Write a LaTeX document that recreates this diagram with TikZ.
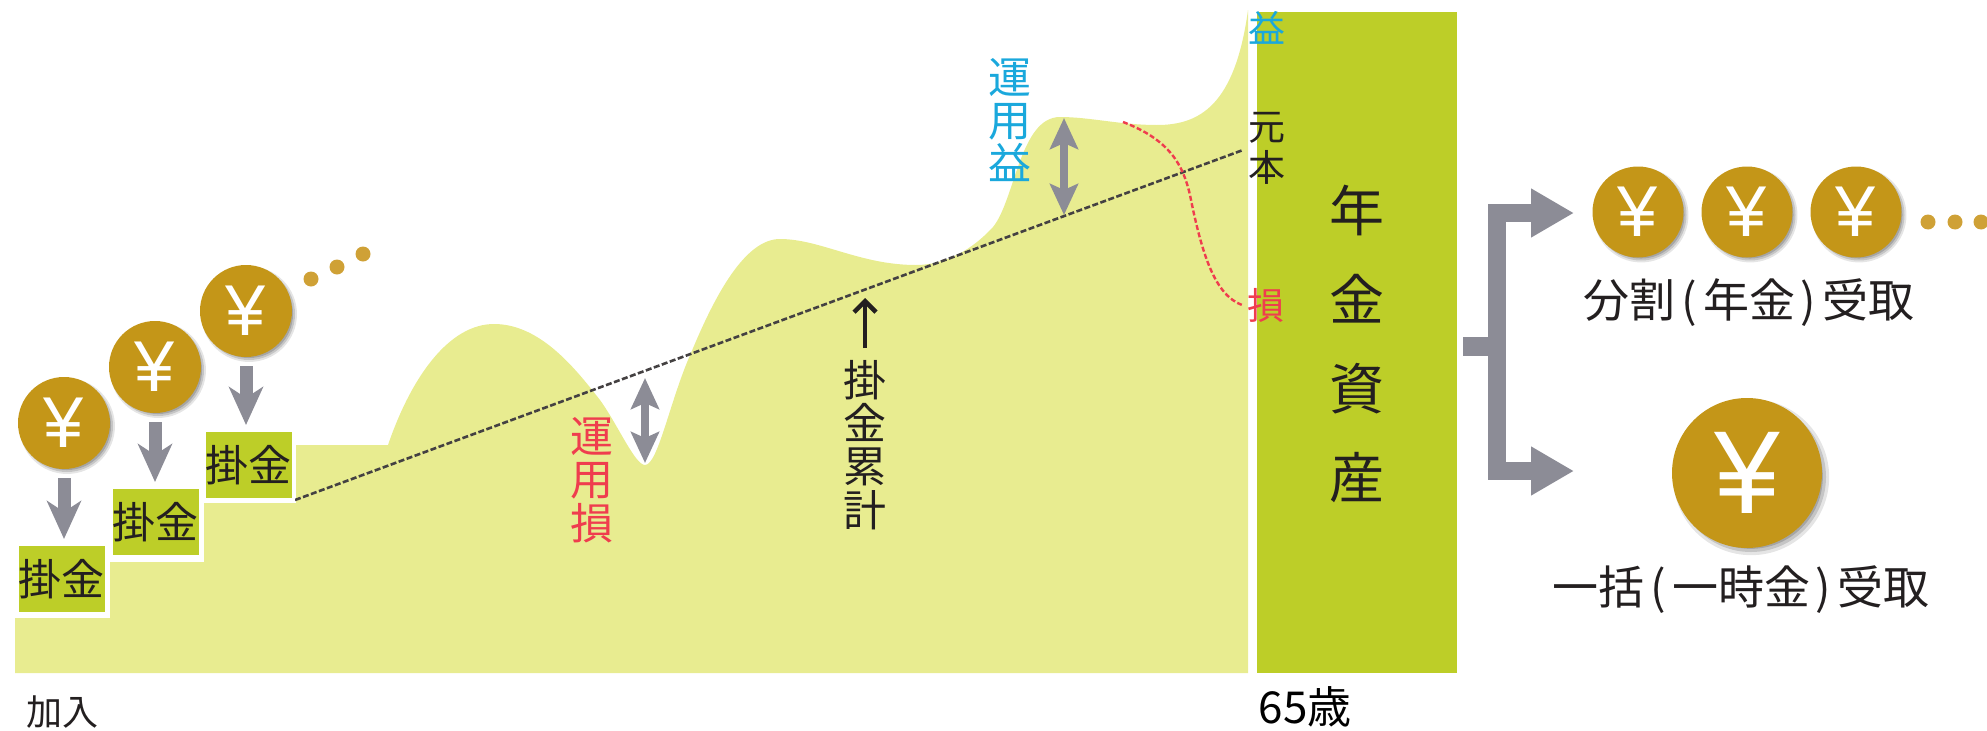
\documentclass[tikz,border=0pt]{standalone}
\usepackage{fontspec}
\setmainfont{Noto Sans CJK JP}
\newfontfamily\yenfont{Liberation Sans}
\usetikzlibrary{arrows.meta,shadows}
\definecolor{areaC}{HTML}{E8EC90}
\definecolor{boxC}{HTML}{BDCE28}
\definecolor{coinC}{HTML}{C49618}
\definecolor{dotC}{HTML}{CFA136}
\definecolor{arrowC}{HTML}{8C8C96}
\definecolor{lossC}{HTML}{EF3D4E}
\definecolor{gainC}{HTML}{1AA8DC}
\definecolor{inkC}{HTML}{231F20}
\newcommand{\fsz}[2]{\fontsize{#1}{#2}\selectfont\lineskiplimit=-200pt\relax}
\newcommand{\plk}{\kern0.13em}
\tikzset{
  softshadow/.style={
    drop shadow={shadow xshift=#1,shadow yshift=-#1,shadow scale=1.04,opacity=.10,fill=black},
    drop shadow={shadow xshift=#1,shadow yshift=-#1,shadow scale=1.0,opacity=.14,fill=black},
    drop shadow={shadow xshift=#1,shadow yshift=-#1,shadow scale=0.96,opacity=.16,fill=black}},
  coin/.style={circle,fill=coinC,text=white,inner sep=0pt,minimum size=92pt,softshadow=3pt,font=\yenfont\fsz{72}{72}},
  bigcoin/.style={circle,fill=coinC,text=white,inner sep=0pt,minimum size=150pt,softshadow=4pt,font=\yenfont\fsz{118}{118}},
  pay/.style={draw=white,line width=3pt,fill=boxC,inner sep=0pt,minimum width=89pt,minimum height=69pt,text=inkC,font=\fsz{43}{43}},
  dropper/.style={draw=arrowC,line width=13pt,-{Stealth[length=38pt,width=34pt,inset=11pt]},arrowC},
  updown/.style={draw=arrowC,line width=8pt,{Stealth[length=31pt,width=28pt,inset=6pt]}-{Stealth[length=31pt,width=28pt,inset=6pt]}},
  branch/.style={draw=arrowC,line width=18pt,line join=miter,-{Triangle[length=43pt,width=46pt]}},
  dotmark/.style={circle,fill=dotC,inner sep=0pt,minimum size=15pt},
  vlabel/.style={align=center,inner sep=0pt,font=\fsz{43}{43.3}},
  hlabel/.style={inner sep=0pt,text=inkC,font=\fsz{46}{46}},
}
\begin{document}
\begin{tikzpicture}[x=1pt,y=-1pt]
\useasboundingbox (0,0) rectangle (1987,731);
% area
\fill[areaC] (15,673) -- (15,618) -- (110,618) -- (110,562) -- (204,562) -- (204,503) -- (296,503) -- (296,445) -- (388,445)
  .. controls (412,375) and (450,324) .. (494,324)
  .. controls (540,324) and (575,368) .. (600,400)
  .. controls (618,425) and (635,465) .. (645,465)
  .. controls (658,465) and (670,400) .. (691,353)
  .. controls (715,295) and (745,239) .. (780,239)
  .. controls (820,239) and (860,265) .. (916,265)
  .. controls (945,265) and (972,250) .. (993,227)
  .. controls (1015,200) and (1020,117) .. (1060,117)
  .. controls (1090,117) and (1120,125) .. (1157,125)
  .. controls (1200,125) and (1235,105) .. (1248,10)
  -- (1248,673) -- cycle;
% asset bar
\node[fill=boxC,inner sep=0pt,minimum width=200pt,minimum height=661pt] (asset) at (1357,342.5) {};
\node[align=center,inner sep=0pt,text=inkC,font=\fsz{55}{89}] (assetlabel) at (1357,344) {年\\金\\資\\産};
% coordinates
\coordinate (cumstart) at (295,500);
\coordinate (cumend) at (1243,150);
\coordinate (lossstart) at (1123,122);
\coordinate (lossend) at (1242,305);
\coordinate (dipT) at (645,378);
\coordinate (dipB) at (645,463);
\coordinate (gainT) at (1064,118);
\coordinate (gainB) at (1064,215);
\coordinate (cumtip) at (865,298);
% lines
\draw[inkC!85,line width=2.6pt,dash pattern=on 6pt off 2.5pt] (cumstart) -- (cumend);
\draw[lossC,line width=2.4pt,dash pattern=on 5pt off 2.5pt] (lossstart) .. controls (1170,140) and (1183,165) .. (1190,195)
  .. controls (1202,255) and (1215,295) .. (lossend);
\draw[updown] (dipT) -- (dipB);
\draw[updown] (gainT) -- (gainB);
% pay boxes
\node[pay] (pay1) at (62,579) {\raisebox{-2pt}{掛金}};
\node[pay] (pay2) at (155.5,522) {\raisebox{-2pt}{掛金}};
\node[pay] (pay3) at (248.5,465) {\raisebox{-3pt}{掛金}};
% coins
\node[coin] (c1) at (64,423) {\raisebox{-3pt}{¥}};
\node[coin] (c2) at (155,367) {\raisebox{-3pt}{¥}};
\node[coin] (c3) at (246,311) {\raisebox{-3pt}{¥}};
\node[dotmark] (d1) at (311,279) {};
\node[dotmark] (d2) at (337,267) {};
\node[dotmark] (d3) at (363,254) {};
\draw[dropper,shorten <=9pt,shorten >=4pt] (c1.south) -- (c1.south|-pay1.north);
\draw[dropper,shorten <=9pt,shorten >=4pt] (c2.south) -- (c2.south|-pay2.north);
\draw[dropper,shorten <=9pt,shorten >=4pt] (c3.south) -- (c3.south|-pay3.north);
% labels
\node[vlabel,text=gainC] (gainlabel) at (1010,120) {運\\用\\益};
\node[vlabel,text=lossC] (losslabel) at (592,480) {運\\用\\損};
\node[vlabel,text=inkC] (cumlabel) at (865,445) {掛\\金\\累\\計};
\draw[inkC,line width=4.5pt,-{Straight Barb[length=11pt,width=22pt]}] (cumlabel.north|-0,348) -- (cumtip);
\node[inner sep=0pt,text=gainC,font=\fsz{37}{37}] (eki) at (1267,28) {益};
\node[align=center,inner sep=0pt,text=inkC,font=\fsz{37}{41}] (gankin) at (1267,148) {元\\本};
\node[inner sep=0pt,text=lossC,font=\fsz{37}{37}] (son) at (1266,305) {損};
\node[inner sep=0pt,text=inkC,font=\fsz{36}{36}] (kanyu) at (63,712) {加入};
\node[inner sep=0pt,text=black,font=\fsz{44}{44}] (age) at (1305,707) {65歳};
% right side
\node[coin,minimum size=91pt] (r1) at (1638,212) {\raisebox{-3pt}{¥}};
\node[coin,minimum size=91pt] (r2) at (1747,212) {\raisebox{-3pt}{¥}};
\node[coin,minimum size=91pt] (r3) at (1856,212) {\raisebox{-3pt}{¥}};
\node[dotmark] (e1) at (1928,222) {};
\node[dotmark] (e2) at (1955,222) {};
\node[dotmark] (e3) at (1981,222) {};
\node[bigcoin] (big) at (1747,473) {\raisebox{-5pt}{¥}};
\node[hlabel] (split) at (1749,303) {分割\plk(\plk 年金\plk)\plk 受取};
\node[hlabel] (lump) at (1741,590) {一括\plk(\plk 一時金\plk)\plk 受取};
\coordinate (stub) at (1496.5,346);
\coordinate (topend) at (1574,213);
\coordinate (botend) at (1574,471);
\draw[draw=arrowC,line width=19pt] (asset.east|-stub) ++(6,0) -- (stub);
\draw[branch] (stub) |- (topend);
\draw[branch] (stub) |- (botend);
\end{tikzpicture}
\end{document}
